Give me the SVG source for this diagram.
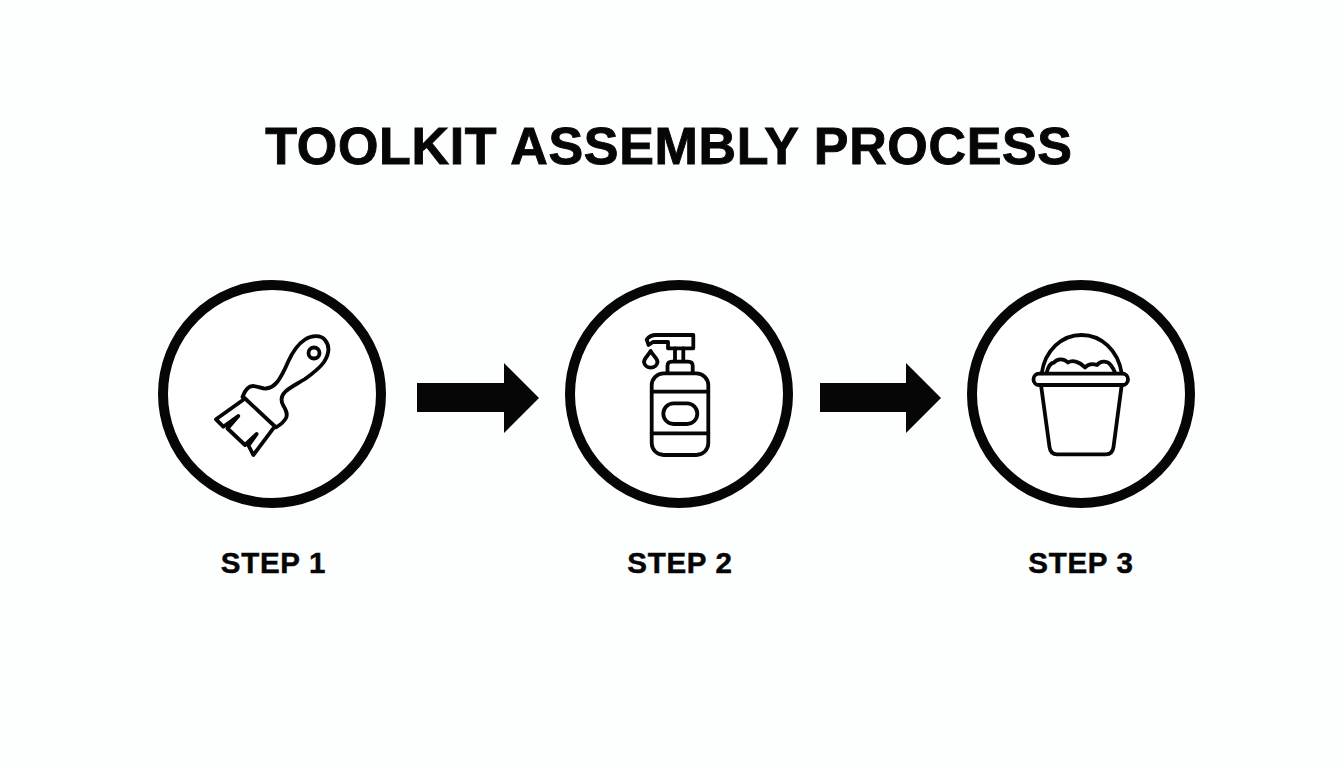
<svg xmlns="http://www.w3.org/2000/svg" width="1344" height="768" viewBox="0 0 1344 768">
<style>
.ring{fill:#fff;stroke:#060606;stroke-width:10}
.ic{fill:none;stroke:#060606;stroke-width:3.800;stroke-linecap:round;stroke-linejoin:round}
.ar{fill:#060606}
text{font-family:"Liberation Sans",Arial,sans-serif;font-weight:700;fill:#060606;stroke:#060606;text-anchor:middle}
.t{font-size:52px;letter-spacing:0.65px;stroke-width:0.9}
.s{font-size:29.500px;letter-spacing:0.7px;stroke-width:0.5}
</style>
<rect width="1344" height="768" fill="#fdfefe"/>
<text id="title" class="t" x="669" y="164">TOOLKIT ASSEMBLY PROCESS</text>
<g id="connectors">
<path class="ar" d="M417 383H504V363L539 398L504 433V412H417Z"/>
<path class="ar" d="M820 383H906V363L941 398L906 433V412H820Z"/>
</g>
<g id="step1">
<circle class="ring" cx="272" cy="394" r="109"/>
<g class="ic">
<path d="M242.500 397C245 390 248 386 253 386C258 386 262 389 266 388.500C271 388 275 385 278 381C283 374 285 369 288 362C292 353 298 344 305 339.500C312 335 321 335 325 340C330 346 329 354 324 362C319 369 312 374 305 379C297 384 290 387 285 392C281 396 281 401 283 405C286 410 288 414 286 418C284 422 280 425 276 427.300"/>
<path d="M244.500 398L275 426.500"/>
<circle cx="314" cy="353" r="5.500"/>
<path d="M243 400L216 419.300L223.300 426.700L238.300 416L227.500 428.500L245 445L256.700 434L248.500 445.500L253.300 455L273.300 428.300"/>
</g>
<text class="s" x="273.500" y="573">STEP 1</text>
</g>
<g id="step2">
<circle class="ring" cx="679" cy="394" r="109"/>
<g class="ic">
<rect x="651.700" y="373.300" width="56.600" height="81.700" rx="12"/>
<path d="M651.700 391.700H708.300M651.700 433.300H708.300"/>
<rect x="663.300" y="403.300" width="34" height="20.700" rx="10.300"/>
<path d="M667.500 373V366Q667.500 361.700 672 361.700H688Q692.700 361.700 692.700 366V373M675 361.700V348.300M683.300 361.700V348.300"/>
<path d="M693.300 348.300V335H656Q650 335 646.700 339.500L648.500 345L653 342H668V348.300Z"/>
<path d="M650.700 351C648 356 644 358 644 362A6.800 6.500 0 0 0 657.500 362C657.500 358 653 356 650.700 351Z"/>
</g>
<text class="s" x="680" y="573">STEP 2</text>
</g>
<g id="step3">
<circle class="ring" cx="1081" cy="394" r="109"/>
<g class="ic">
<path d="M1041.700 373.300C1045 350 1062 335 1081.500 335C1101 335 1118 350 1121.700 373.300"/>
<rect x="1033.500" y="373.700" width="94.500" height="11.300" rx="5.600"/>
<path d="M1041 385L1049.500 447Q1050.500 454.300 1057 454.300H1106Q1112.500 454.300 1113.500 447L1121.700 385"/>
<path d="M1046.700 372.700C1048 367 1050 363 1054 362.500C1057 358.500 1064 358 1068 362.500C1072 360 1079 361 1085 367.500C1089 363 1094 364 1097 365C1101 360 1108 361 1111 365.500C1113 368 1114 370 1115 372.700"/>
</g>
<text class="s" x="1081" y="573">STEP 3</text>
</g>
</svg>
